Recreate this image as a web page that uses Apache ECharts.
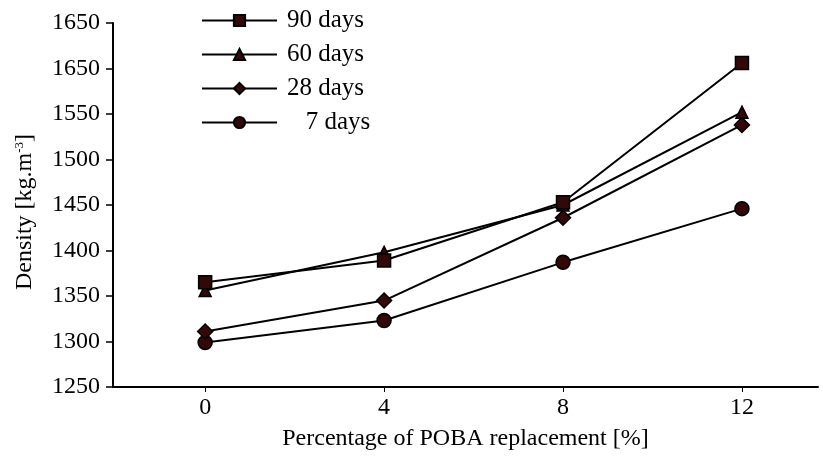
<!DOCTYPE html>
<html><head><meta charset="utf-8">
<script src="https://cdn.jsdelivr.net/npm/echarts@6/dist/echarts.min.js"></script>
<style>html,body{margin:0;padding:0;background:#fff}#c{width:823px;height:458px}</style>
</head><body><div id="c"></div>
<script>
const categories = [0, 4, 8, 12];
const seriesNames = ['90 days', '60 days', '28 days', '7 days'];
const d90 = [1365, 1389, 1453, 1606];
const d60 = [1356, 1398, 1450, 1552];
const d28 = [1311, 1345, 1436, 1538];
const d7 = [1299, 1323, 1387, 1446];
const yTickValues = [1250, 1300, 1350, 1400, 1450, 1500, 1550, 1600, 1650];
const yTickLabels = ['1250', '1300', '1350', '1400', '1450', '1500', '1550', '1650', '1650'];
const xTickValues = [0, 4, 8, 12];

const FONT = 'Liberation Serif';
const FS = 24;
const symbols = ['rect', 'triangle', 'diamond', 'circle'];
const sizes = [13, 12, 15, 14];
const data = [d90, d60, d28, d7];

const chart = echarts.init(document.getElementById('c'), null, {renderer: 'canvas'});
chart.setOption({
  animation: false,
  backgroundColor: '#fff',
  textStyle: {fontFamily: FONT, color: '#000'},
  grid: {left: 113, right: 5, top: 23, bottom: 71, containLabel: false, outerBoundsMode: 'none'},
  legend: {
    orient: 'vertical', left: 201, top: 8, padding: 0, itemWidth: 75, itemHeight: 14, itemGap: 9,
    data: seriesNames,
    textStyle: {fontFamily: FONT, fontSize: 25, color: '#000', padding: [0, 0, 0, 5]},
    formatter: n => n === '7 days' ? '   ' + n : n
  },
  xAxis: {
    type: 'value', min: -2.06, max: 13.7,
    name: 'Percentage of POBA replacement [%]', nameLocation: 'middle', nameGap: 40,
    nameTextStyle: {fontFamily: FONT, fontSize: FS, color: '#000'},
    axisLine: {show: true, onZero: false, lineStyle: {color: '#000', width: 2}},
    axisTick: {show: true, length: 5, lineStyle: {color: '#000', width: 1}, customValues: xTickValues},
    axisLabel: {fontFamily: FONT, fontSize: FS, color: '#000', margin: 9, customValues: xTickValues},
    splitLine: {show: false}
  },
  yAxis: {
    type: 'value', min: 1250, max: 1650, interval: 50,
    name: 'Density [kg.m{sup|-3}]', nameLocation: 'middle', nameGap: 76,
    nameTextStyle: {fontFamily: FONT, fontSize: FS, color: '#000', padding: [0, 14, 0, 0],
      rich: {sup: {fontFamily: FONT, fontSize: 13, color: '#000', verticalAlign: 'top', padding: [0, 0, 10, 0]}}},
    axisLine: {show: true, onZero: false, lineStyle: {color: '#000', width: 2}},
    axisTick: {show: true, length: 7, lineStyle: {color: '#000', width: 1.5}},
    axisLabel: {fontFamily: FONT, fontSize: FS, color: '#000', margin: 13,
      formatter: v => { const i = yTickValues.indexOf(v); return i >= 0 ? yTickLabels[i] : ''; }},
    splitLine: {show: false}
  },
  series: seriesNames.map((n, i) => ({
    name: n, type: 'line',
    data: categories.map((c, j) => [c, data[i][j]]),
    symbol: symbols[i], symbolSize: sizes[i],
    lineStyle: {color: '#000', width: 2},
    itemStyle: {color: '#330808', borderColor: '#000', borderWidth: 1.5},
    z: 10 - i
  }))
});
</script></body></html>
